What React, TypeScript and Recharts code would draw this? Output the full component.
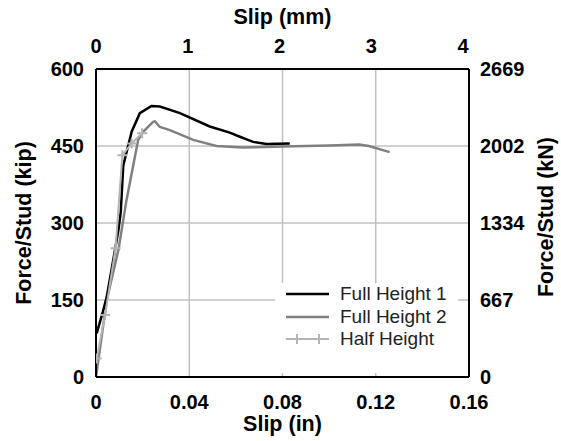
import {
  LineChart, Line, XAxis, YAxis, CartesianGrid, Legend,
} from 'recharts'

// Slip (in) vs. force per stud (kip)
const fh1Slip = [0.0003, 0.003, 0.0046, 0.0074, 0.0096, 0.0106, 0.0117, 0.0153, 0.0188, 0.0238, 0.0274, 0.036, 0.0488, 0.0574, 0.0617, 0.0674, 0.0731, 0.0831]
const fh1Force = [85, 128, 156, 228, 286, 320, 412, 478, 514, 528, 527, 514, 488, 476, 468, 458, 454, 455]

const fh2Slip = [0, 0.0046, 0.0096, 0.0117, 0.0131, 0.0181, 0.0203, 0.0245, 0.0253, 0.0274, 0.0317, 0.0417, 0.0517, 0.063, 0.08, 0.1, 0.113, 0.117, 0.126]
const fh2Force = [0, 150, 247, 306, 345, 462, 478, 497, 498, 487, 481, 462, 450, 447, 449, 451, 453, 450, 438]

const hhSlip = [0.0003, 0.0039, 0.0084, 0.0113, 0.0153, 0.0198]
const hhForce = [36, 121, 251, 432, 455, 475]

const inTicks = [0, 0.04, 0.08, 0.12, 0.16]
const mmTicks = [0, 1, 2, 3, 4]
const kipTicks = [0, 150, 300, 450, 600]
const kNTicks = [0, 667, 1334, 2002, 2669]

const seriesNames = ['Full Height 1', 'Full Height 2', 'Half Height']
const seriesColors = ['#000000', '#808080', '#b4b4b4']

const zip = (xs: number[], ys: number[]) => xs.map((slip, i) => ({ slip, force: ys[i] }))
const fh1 = zip(fh1Slip, fh1Force)
const fh2 = zip(fh2Slip, fh2Force)
const hh = zip(hhSlip, hhForce)
// empty series so the mm axis has something bound to it
const mmAnchor = mmTicks.map((mm) => ({ mm }))

const FONT = '"Liberation Sans", Arial, sans-serif'
const tickStyle = { fill: '#000', fontSize: 20, fontWeight: 700, fontFamily: FONT }

function PlusDot(props: any) {
  const { cx, cy } = props
  if (cx == null || cy == null) return null
  return (
    <path
      d={`M${cx - 5},${cy}H${cx + 5}M${cx},${cy - 5}V${cy + 5}`}
      stroke={seriesColors[2]}
      strokeWidth={2}
    />
  )
}

// axis title drawn relative to the axis box
function title(text: string, dx: number, dy: number, rotate: boolean) {
  return (props: any) => {
    const vb = props.viewBox || {}
    const x = vb.x + dx
    const y = vb.y + dy
    return (
      <text
        x={x}
        y={y}
        textAnchor="middle"
        transform={rotate ? `rotate(-90 ${x} ${y})` : undefined}
        style={{ fontSize: 21.5, fontWeight: 700, fontFamily: FONT, fill: '#000' }}
      >
        {text}
      </text>
    )
  }
}

function LegendBox() {
  return (
    <div style={{ background: '#fff', width: 183, height: 90, fontFamily: FONT, fontSize: 19, color: '#222' }}>
      {seriesNames.map((name, i) => (
        <div key={name} style={{ display: 'flex', alignItems: 'center', height: 22.5, marginTop: i === 0 ? 10 : 0 }}>
          <svg width={65} height={22} style={{ display: 'block' }}>
            <line x1={11} y1={11} x2={54} y2={11} stroke={seriesColors[i]} strokeWidth={i === 2 ? 2 : 2.5} />
            {i === 2 && (
              <path d="M22,6V16M44,6V16" stroke={seriesColors[2]} strokeWidth={2} />
            )}
          </svg>
          <span style={{ lineHeight: '22px' }}>{name}</span>
        </div>
      ))}
    </div>
  )
}

export default function App() {
  return (
    <div style={{ position: 'absolute', left: 0, top: 0, width: 561, height: 441, background: '#fff' }}>
      <LineChart width={561} height={441} margin={{ top: 0, right: 0, bottom: 0, left: 0 }}>
        <CartesianGrid
          xAxisId="in"
          yAxisId="kip"
          stroke="#c0c0c0"
          strokeWidth={1.5}
        />
        <XAxis
          xAxisId="in"
          type="number"
          dataKey="slip"
          domain={[0, 0.16]}
          ticks={inTicks}
          allowDataOverflow
          height={64}
          tick={tickStyle}
          tickLine={false}
          tickSize={0}
          tickMargin={18}
          axisLine={{ stroke: '#000', strokeWidth: 2 }}
          label={{ content: title('Slip (in)', 186.5, 54, false) }}
        />
        <XAxis
          xAxisId="mm"
          orientation="top"
          type="number"
          dataKey="mm"
          domain={[0, 4.064]}
          ticks={mmTicks}
          allowDataOverflow
          height={69}
          tick={tickStyle}
          tickLine={false}
          tickSize={0}
          tickMargin={16}
          axisLine={{ stroke: '#000', strokeWidth: 2 }}
          label={{ content: title('Slip (mm)', 186.5, 24, false) }}
        />
        <YAxis
          yAxisId="kip"
          type="number"
          domain={[0, 600]}
          ticks={kipTicks}
          allowDataOverflow
          width={96}
          tick={tickStyle}
          tickLine={false}
          tickSize={0}
          tickMargin={12}
          axisLine={{ stroke: '#000', strokeWidth: 2 }}
          label={{ content: title('Force/Stud (kip)', 31, 154, true) }}
        />
        <YAxis
          yAxisId="kN"
          orientation="right"
          type="number"
          domain={[0, 2669]}
          ticks={kNTicks}
          allowDataOverflow
          width={92}
          tick={tickStyle}
          tickLine={false}
          tickSize={0}
          tickMargin={11}
          axisLine={{ stroke: '#000', strokeWidth: 2 }}
          label={{ content: title('Force/Stud (kN)', 84, 148, true) }}
        />
        <Line
          xAxisId="mm"
          yAxisId="kN"
          data={mmAnchor}
          dataKey="none"
          stroke="none"
          dot={false}
          legendType="none"
          isAnimationActive={false}
        />
        <Line
          xAxisId="in"
          yAxisId="kip"
          data={fh2}
          dataKey="force"
          name={seriesNames[1]}
          stroke={seriesColors[1]}
          strokeWidth={2.5}
          dot={false}
          type="linear"
          isAnimationActive={false}
        />
        <Line
          xAxisId="in"
          yAxisId="kip"
          data={fh1}
          dataKey="force"
          name={seriesNames[0]}
          stroke={seriesColors[0]}
          strokeWidth={2.5}
          dot={false}
          type="linear"
          isAnimationActive={false}
        />
        <Line
          xAxisId="in"
          yAxisId="kip"
          data={hh}
          dataKey="force"
          name={seriesNames[2]}
          stroke={seriesColors[2]}
          strokeWidth={2}
          dot={<PlusDot />}
          type="linear"
          isAnimationActive={false}
        />
        <Legend
          layout="vertical"
          align="center"
          verticalAlign="middle"
          content={() => <LegendBox />}
          wrapperStyle={{ position: 'absolute', left: 275, top: 273, width: 183, height: 90 }}
        />
      </LineChart>
    </div>
  )
}
